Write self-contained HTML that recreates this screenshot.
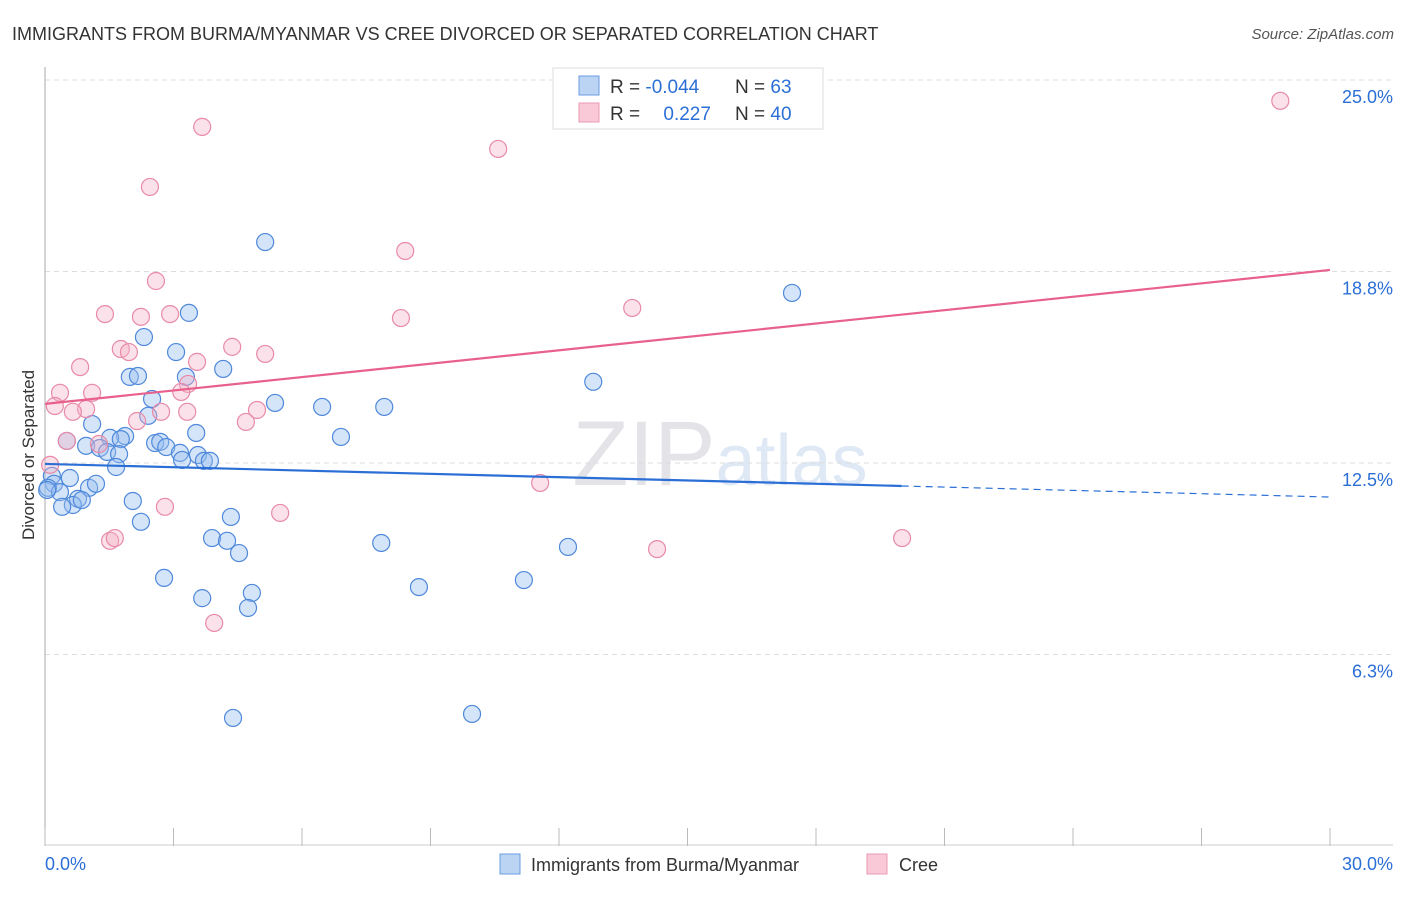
<!DOCTYPE html>
<html><head><meta charset="utf-8"><style>
body{margin:0;background:#fff;font-family:"Liberation Sans",sans-serif;}
svg text{font-family:"Liberation Sans",sans-serif;}
</style></head><body>
<svg id="c" width="1406" height="892" xmlns="http://www.w3.org/2000/svg">
<text x="12" y="40" font-size="18" fill="#333">IMMIGRANTS FROM BURMA/MYANMAR VS CREE DIVORCED OR SEPARATED CORRELATION CHART</text>
<text x="1394" y="39" font-size="15" fill="#555" font-style="italic" text-anchor="end">Source: ZipAtlas.com</text>
<text x="720" y="485" font-size="92" fill="#e4e4e8" text-anchor="middle" font-family="Liberation Serif">ZIP<tspan fill="#dfe8f5" font-family="Liberation Sans" font-size="72">atlas</tspan></text>
<g id="grid"></g><g id="axes"></g><g id="pts"></g><g id="trend"></g>
<text transform="translate(34,455) rotate(-90)" font-size="17" fill="#333" text-anchor="middle">Divorced or Separated</text>
<g>
<rect x="553" y="68" width="270" height="61" fill="#fff" stroke="#ddd"/>
<rect x="579" y="76" width="20" height="19" fill="#bcd4f4" stroke="#6a9be0"/>
<rect x="579" y="103" width="20" height="19" fill="#f9c9d8" stroke="#eb9ab3"/>
<text x="610" y="93" font-size="19" fill="#333">R = <tspan fill="#2b6fd6">-0.044</tspan></text>
<text x="735" y="93" font-size="19" fill="#333">N = <tspan fill="#2b6fd6">63</tspan></text>
<text x="610" y="120" font-size="19" fill="#333">R = <tspan fill="#2b6fd6" dx="18">0.227</tspan></text>
<text x="735" y="120" font-size="19" fill="#333">N = <tspan fill="#2b6fd6">40</tspan></text>
</g>
<g>
<rect x="500" y="854" width="20" height="20" fill="#bcd4f4" stroke="#6a9be0"/>
<text x="531" y="871" font-size="18" fill="#333">Immigrants from Burma/Myanmar</text>
<rect x="867" y="854" width="20" height="20" fill="#f9c9d8" stroke="#eb9ab3"/>
<text x="899" y="871" font-size="18" fill="#333">Cree</text>
</g>
</svg>
<script>
const blueX=[5.14,17.44,3.36,2.31,3.06,4.16,1.98,2.17,3.29,12.80,2.50,5.37,6.47,7.92,2.41,1.10,3.53,6.91,1.87,1.52,1.77,0.51,0.96,1.28,2.57,2.69,2.83,3.15,1.45,1.73,3.20,3.57,3.71,3.85,1.66,0.58,0.16,0.21,0.07,0.35,1.03,1.19,0.77,0.65,0.86,0.40,2.05,2.24,4.34,3.90,4.25,4.53,7.85,12.21,2.78,11.18,8.73,4.83,3.67,4.74,4.39,9.97,0.05];
const blueY=[19.71,18.05,17.40,16.61,16.12,15.57,15.31,15.34,15.31,15.15,14.59,14.46,14.33,14.33,14.04,13.77,13.48,13.35,13.38,13.32,13.28,13.22,13.06,12.99,13.15,13.19,13.02,12.83,12.86,12.79,12.60,12.76,12.57,12.57,12.37,12.01,12.08,11.82,11.69,11.55,11.69,11.82,11.33,11.13,11.29,11.07,11.26,10.58,10.74,10.05,9.96,9.56,9.89,9.76,8.75,8.68,8.45,8.26,8.09,7.77,4.18,4.31,11.62];
const pinkX=[28.84,3.67,10.58,2.45,8.41,2.59,13.71,1.40,2.92,2.24,8.31,4.37,5.14,1.77,1.96,3.55,0.82,0.35,1.10,3.34,3.18,0.23,0.96,0.65,2.71,3.32,4.95,2.15,4.69,0.51,1.26,0.12,11.56,2.80,5.49,1.52,1.63,14.29,20.01,3.95];
const pinkY=[24.32,23.47,22.75,21.51,19.42,18.44,17.56,17.36,17.36,17.27,17.23,16.29,16.06,16.22,16.12,15.80,15.63,14.79,14.79,15.08,14.82,14.36,14.26,14.17,14.17,14.17,14.23,13.87,13.84,13.22,13.12,12.44,11.85,11.07,10.87,9.96,10.05,9.69,10.05,7.28];
const yTicks=[6.25,12.5,18.75,25];
const yTickLabels=["6.3%","12.5%","18.8%","25.0%"];
const blueTrend=[12.47,11.39];
const pinkTrend=[14.43,18.80];
const NS="http://www.w3.org/2000/svg";
const X0=45,X1=1330,YB=846,YT=80;
const sx=v=>X0+(v/30)*(X1-X0);
const sy=v=>YB-(v/25)*(YB-YT);
function mk(tag,attrs,parent){const e=document.createElementNS(NS,tag);for(const k in attrs)e.setAttribute(k,attrs[k]);parent.appendChild(e);return e;}
const grid=document.getElementById('grid'),axes=document.getElementById('axes'),pts=document.getElementById('pts'),trend=document.getElementById('trend');
yTicks.forEach((t,i)=>{
 const l=mk('line',{x1:X0,x2:1393,y1:sy(t),y2:sy(t),stroke:'#ddd','stroke-dasharray':'5,4'},grid);
 
 
 const tx=mk('text',{x:1393,y:sy(t)+23,'font-size':18,fill:'#2b6fd6','text-anchor':'end'},grid);
 tx.textContent=yTickLabels[i];
 
 
});
const ya=mk('line',{x1:X0,x2:X0,y1:67,y2:846,stroke:'#aaa'},axes);


const xa=mk('line',{x1:X0,x2:1393,y1:845,y2:845,stroke:'#ccc'},axes);


for(let i=0;i<=10;i++){
 const t=mk('line',{x1:sx(i*3),x2:sx(i*3),y1:828,y2:846,stroke:'#bbb'},axes);
 
 
}
const xl0=mk('text',{x:45,y:870,'font-size':18,fill:'#2b6fd6'},axes);xl0.textContent='0.0%';


const xl1=mk('text',{x:1393,y:870,'font-size':18,fill:'#2b6fd6','text-anchor':'end'},axes);xl1.textContent='30.0%';


blueX.forEach((x,i)=>{
 const c=mk('circle',{cx:sx(x),cy:sy(blueY[i]),r:8.5,fill:'rgba(150,190,240,0.4)',stroke:'#4f88da','stroke-width':1.2},pts);
 
 
});
pinkX.forEach((x,i)=>{
 const c=mk('circle',{cx:sx(x),cy:sy(pinkY[i]),r:8.5,fill:'rgba(245,175,198,0.38)',stroke:'#e88aa8','stroke-width':1.2},pts);
 
 
});
const bmid=blueTrend[0]+(blueTrend[1]-blueTrend[0])*(20/30);
const b1=mk('line',{x1:sx(0),y1:sy(blueTrend[0]),x2:sx(20),y2:sy(bmid),stroke:'#2b6fd6','stroke-width':2.2},trend);


const b2=mk('line',{x1:sx(20),y1:sy(bmid),x2:sx(30),y2:sy(blueTrend[1]),stroke:'#2b6fd6','stroke-width':1.2,'stroke-dasharray':'7,5'},trend);


const p1=mk('line',{x1:sx(0),y1:sy(pinkTrend[0]),x2:sx(30),y2:sy(pinkTrend[1]),stroke:'#e8608c','stroke-width':2.2},trend);


</script>
</body></html>
